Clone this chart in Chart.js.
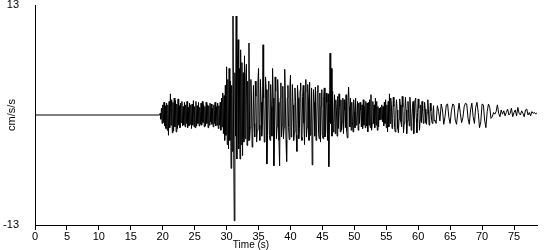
<!DOCTYPE html>
<html>
<head>
<meta charset="utf-8">
<script src="https://cdn.jsdelivr.net/npm/chart.js@4.4.1/dist/chart.umd.min.js"></script>
<style>
  html, body { margin: 0; padding: 0; background: #fff; }
  #wrap { width: 550px; height: 250px; }
</style>
</head>
<body>
<div id="wrap"><canvas id="seis"></canvas></div>
<script>
// quiet part before the first arrival (s, cm/s/s)
const preTimes = [0, 19.5];
const preValues = [0, 0];

// strong part, sampled every 0.1 s from 19.6 s
const denseStart = 19.6;
const denseStep = 0.1;
const denseValues = [
  0.2, -0.5, 0.8, -1.0, 1.2, -0.9, 1.5, -1.3, 1.1, -1.6,
  1.4, -1.8, 1.2, -2.4, 1.6, -1.5, 2.5, -1.2, 1.8, -2.1,
  1.5, -1.9, 2.0, -1.4, 1.7, -2.0, 1.3, -1.6, 1.9, -1.2,
  1.1, -1.5, 1.4, -0.9, 1.6, -1.3, 1.0, -1.2, 1.5, -1.4,
  1.2, -1.0, 1.6, -1.5, 0.9, -1.3, 1.4, -1.1, 1.2, -1.6,
  1.3, -1.2, 1.7, -1.4, 1.0, -1.5, 1.6, -1.3, 1.1, -1.0,
  1.5, -1.3, 0.9, -1.1, 1.4, -1.2, 1.6, -0.9, 1.2, -1.4,
  1.0, -1.3, 1.5, -1.0, 1.2, -1.5, 1.1, -1.2, 1.4, -0.8,
  1.3, -1.1, 0.8, -1.4, 1.2, -1.0, 1.5, -1.3, 1.0, -1.2,
  1.4, -1.6, 1.1, -1.2, 1.5, -1.8, 2.0, -1.4, 2.6, -2.2,
  2.3, -3.0, 3.5, -2.4, 5.7, -3.5, 4.2, -4.0, 5.5, -3.0,
  4.0, -6.3, 3.5, -4.3, 11.7, -3.0, -12.5, 5.0, -2.5, 11.7,
  -5.2, 6.0, 8.9, -4.0, 5.5, -5.2, 7.7, -3.5, 6.2, -4.8,
  5.0, -3.2, 7.0, -2.8, 4.5, 6.0, -3.6, 4.0, -3.0, 8.5,
  -3.0, -1.5, 4.2, 2.0, -3.8, -2.2, 3.5, -1.0, -2.6, 4.0,
  2.2, -3.2, -1.8, 3.8, 5.5, -1.2, -3.0, 4.2, 1.5, -2.5,
  -1.2, 8.3, 2.0, -3.2, -2.0, 4.5, 3.0, -5.8, -2.4, 3.0,
  4.0, -2.4, -3.0, 3.6, 1.0, -2.5, 5.5, 2.0, -6.0, -2.0,
  4.5, 2.8, -2.8, -1.4, 4.2, 1.5, -3.0, -6.0, 2.0, 3.8,
  -2.6, -1.2, 3.4, -2.8, -1.5, 5.4, 1.8, -3.0, -5.5, 2.0,
  3.5, -1.5, -2.9, 3.0, 4.7, -2.6, -1.4, 3.6, 1.2, -3.0,
  -2.0, 3.2, 1.6, -2.4, -4.3, 3.5, 2.0, -2.8, -1.6, 2.9,
  3.8, -2.6, -3.0, 2.2, 3.5, -1.0, -3.5, 2.7, 4.2, -2.6,
  -1.5, 3.6, 2.0, -3.0, 3.9, -2.4, -1.2, 3.2, -5.9, -2.0,
  3.0, 1.5, -2.5, 3.3, -3.0, -1.4, 2.8, 3.5, -2.2, -2.8,
  2.6, -3.2, 1.0, 3.0, -2.4, -2.8, 2.2, 3.2, -2.6, -2.0,
  2.6, 1.5, -3.0, 2.5, -6.1, -1.0, 7.3, -1.0, 5.5, -2.5,
  2.8, -2.0, -1.0, 2.4, -2.2, 1.8, 0.5, -2.5, 2.2, -1.6,
  2.5, 1.0, -2.0, 1.8, -1.8, -0.8, 2.0, -2.2, 1.8, 0.6,
  -1.5, 2.4, -1.9, -2.7, 1.2, 3.3, 1.0, -1.4, 2.0, -1.8,
  1.5, -0.8, -2.0, 1.8, 0.4, -1.5, 2.0, -1.2, -0.6, 1.6,
  -1.8, 1.4, -1.0, 1.5, 0.6, -1.4, 1.2, -1.6, 1.8, -1.2,
  1.0, -1.5, 1.6, -1.3, 1.4, -2.0, 1.5, -1.2, 1.8, -1.5,
  2.4, -1.8, -1.0, 1.6, -1.0, 1.2, -1.5, 2.0, -1.2, 1.6,
  -1.8, 1.0, -1.4, 0.8, -0.6, 0.9, -0.5, 1.2, -0.8, 1.0,
  -1.3, 1.5, -1.0, 1.8, -1.5, 1.2, -2.0, 1.6, -1.4, 2.5,
  -1.0, 2.0, 1.2, -1.6, -0.4, 2.1, 1.0, -1.5, -2.0, 0.5,
  1.8, 0.6, -1.6, -2.1, -0.5, 1.9, 1.2, -0.8, -1.4, 2.2,
  0.9, -2.1, -1.0, 0.4, 2.1, 0.6, -2.2, -0.7, 1.6, 0.2,
  -1.3, 2.1, 0.8, -1.8, -0.6, 0.9, 1.6, -2.2, -0.5, 1.8,
  2.0, -0.4, -2.1, 0.3, 1.9, 0.8, -1.8, -0.6, 1.2, -0.9,
  1.6, 0.5, -1.0, -0.4, 1.5, 0.7, -0.9, -1.1, 0.3, 1.8,
  0.6, -1.2, -0.5, 1.4, 0.5, -0.6, -1.0, 0.2, 1.1, -0.7
];

// coda, sampled every 0.2 s from 62.6 s
const codaStart = 62.6;
const codaStep = 0.2;
const codaValues = [
  -0.6, -1.0, 1.1, 0.4, -0.7, 1.3, 0.6,
  -1.1, -0.2, 1.2, 1.3, -0.3, -1.0, 0.5, 1.3, 1.2, -0.6,
  -1.1, 0.3, 1.4, 0.2, -0.9, -0.3, 1.0, 1.4, 1.3, -0.4,
  -1.1, 0.6, 1.4, -0.2, -1.0, 0.9, 1.5, 0.3, -1.5, -0.8,
  1.3, 1.2, -0.6, -1.5, 0.4, 1.3, 0.9, -0.4, -0.2, 0.3,
  0.1, 0.4, 1.2, 0.2, -0.2, 0.6, 0.1, 0.5, -0.1, 0.3,
  0.7, 0.0, 0.2, 0.8, -0.2, 0.3, 0.6, -0.1, 0.9, 0.2,
  0.0, 0.5, 0.2, -0.2, 0.6, 0.7, 0.0, 0.3, -0.1, 0.4,
  0.2, 0.3, 0.1, 0.3
];

const xTicks = [0, 5, 10, 15, 20, 25, 30, 35, 40, 45, 50, 55, 60, 65, 70, 75];
const yTicks = [-13, 13];
const xMax = 78.6;
const yLabel = 'cm/s/s';
const xLabel = 'Time (s)';

const points = preTimes.map((t, i) => ({ x: t, y: preValues[i] }));
denseValues.forEach((v, i) => {
  points.push({ x: +(denseStart + i * denseStep).toFixed(2), y: v });
});
codaValues.forEach((v, i) => {
  points.push({ x: +(codaStart + i * codaStep).toFixed(2), y: v });
});

const font = { family: 'Liberation Sans, Arial, sans-serif', size: 11 };

// axis titles sit where the original put them, not where Chart.js would
const titles = {
  id: 'titles',
  afterDraw(chart) {
    const ctx = chart.ctx;
    const area = chart.chartArea;
    ctx.save();
    ctx.fillStyle = '#000';
    ctx.font = '10px ' + font.family;
    ctx.textAlign = 'center';
    ctx.textBaseline = 'alphabetic';
    ctx.fillText(xLabel, 251, 248);
    ctx.font = '11px ' + font.family;
    ctx.textBaseline = 'middle';
    ctx.translate(12, (area.top + area.bottom) / 2);
    ctx.rotate(-Math.PI / 2);
    ctx.fillText(yLabel, 0, 0);
    ctx.restore();
  }
};

new Chart(document.getElementById('seis'), {
  type: 'line',
  data: {
    datasets: [{
      data: points,
      borderColor: '#000',
      borderWidth: 1,
      pointRadius: 0,
      tension: 0,
      fill: false
    }]
  },
  options: {
    responsive: true,
    maintainAspectRatio: false,
    animation: false,
    events: [],
    layout: { autoPadding: false, padding: { top: 5, right: 13, left: 0, bottom: 0 } },
    plugins: { legend: { display: false }, tooltip: { enabled: false } },
    scales: {
      x: {
        type: 'linear',
        min: 0,
        max: xMax,
        afterBuildTicks: s => { s.ticks = xTicks.map(v => ({ value: v })); },
        afterFit: s => { s.height = 25; s.paddingLeft = 0; s.paddingRight = 0; },
        border: { color: '#000', width: 1 },
        grid: { drawOnChartArea: false, drawTicks: true, tickLength: 5, color: '#000' },
        ticks: { color: '#000', font: font, padding: 0, maxRotation: 0, autoSkip: false }
      },
      y: {
        min: -13,
        max: 13,
        afterBuildTicks: s => { s.ticks = yTicks.map(v => ({ value: v })); },
        afterFit: s => { s.width = 35; s.paddingTop = 0; s.paddingBottom = 0; },
        border: { color: '#000', width: 1 },
        grid: { drawOnChartArea: false, drawTicks: false },
        ticks: { color: '#000', font: font, padding: 16 }
      }
    }
  },
  plugins: [titles]
});
</script>
</body>
</html>
